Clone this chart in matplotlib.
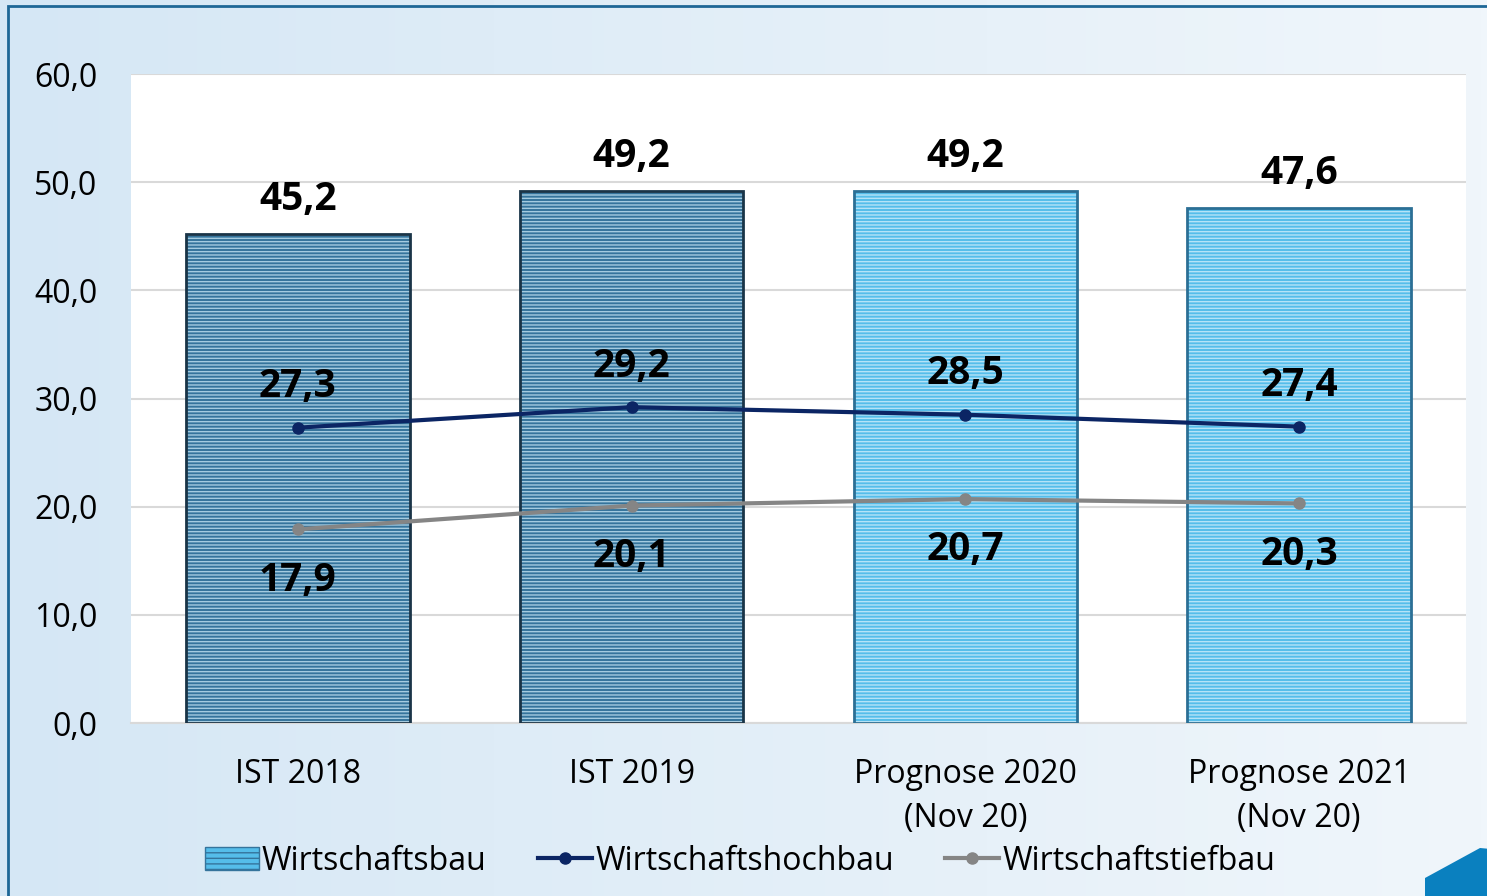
import numpy as np
import matplotlib
matplotlib.use("Agg")
import matplotlib.pyplot as plt
from matplotlib.patches import Rectangle, Polygon
from matplotlib.lines import Line2D

categories = ["IST 2018", "IST 2019", "Prognose 2020\n(Nov 20)", "Prognose 2021\n(Nov 20)"]
wirtschaftsbau = [45.2, 49.2, 49.2, 47.6]
hochbau = [27.3, 29.2, 28.5, 27.4]
tiefbau = [17.9, 20.1, 20.7, 20.3]
y_ticks = [0, 10, 20, 30, 40, 50, 60]

plt.rcParams['font.family'] = ['Open Sans', 'DejaVu Sans']

def fmt(v):
    return "{0:.1f}".format(v).replace(".", ",")

fig = plt.figure(figsize=(14.87, 8.96), dpi=100)

# background gradient
bg = fig.add_axes([0, 0, 1, 1], zorder=-10)
grad = np.linspace(0, 1, 256).reshape(1, -1)
cmap = matplotlib.colors.LinearSegmentedColormap.from_list("bg", ["#d5e7f5", "#f0f6fb"])
bg.imshow(grad, aspect="auto", cmap=cmap, extent=[0, 1, 0, 1])
bg.set_xlim(0, 1)
bg.set_ylim(0, 1)
bg.axis("off")
bg.add_patch(Rectangle((8 / 1487, -0.1), 1.2, 1.1 - 6 / 896, fill=False,
                       edgecolor="#1e6796", linewidth=2))
bg.add_patch(Polygon([(1425 / 1487, 1 - 878 / 896), (1480 / 1487, 1 - 848 / 896),
                      (1.01, 1 - 850 / 896), (1.01, -0.01), (1425 / 1487, -0.01)],
                     closed=True, facecolor="#0a80bf", edgecolor="none"))

ax = fig.add_axes([131 / 1487, 1 - 723 / 896, (1466 - 131) / 1487, (723 - 74) / 896])
ax.set_facecolor("white")
x = np.arange(len(categories))
width = 0.67

face_colors = ["#35749c", "#35749c", "#55bdea", "#55bdea"]
hatch_colors = ["#a4cbe0", "#a4cbe0", "#b5e3f7", "#b5e3f7"]
edge_colors = ["#1a3447", "#1a3447", "#2b6f95", "#2b6f95"]
for i in range(len(categories)):
    ax.bar(x[i], wirtschaftsbau[i], width, color=face_colors[i], edgecolor=hatch_colors[i],
           hatch="-----", linewidth=0, zorder=2)
    ax.bar(x[i], wirtschaftsbau[i], width, fill=False, edgecolor=edge_colors[i], linewidth=2, zorder=3)
    ax.text(x[i], wirtschaftsbau[i] + 3.2, fmt(wirtschaftsbau[i]), ha="center", va="center",
            fontsize=28, fontweight="bold", color="black", zorder=5)

ax.plot(x, hochbau, color="#0b2564", linewidth=3, marker="o", markersize=8, zorder=4)
ax.plot(x, tiefbau, color="#858585", linewidth=3, marker="o", markersize=8, zorder=4)
for i in range(len(categories)):
    ax.text(x[i], hochbau[i] + 3.8, fmt(hochbau[i]), ha="center", va="center",
            fontsize=28, fontweight="bold", color="black", zorder=5)
    ax.text(x[i], tiefbau[i] - 4.7, fmt(tiefbau[i]), ha="center", va="center",
            fontsize=28, fontweight="bold", color="black", zorder=5)

ax.set_xlim(-0.5, len(categories) - 0.5)
ax.set_ylim(0, 60)
ax.set_yticks(y_ticks)
ax.set_yticklabels([fmt(v) for v in y_ticks], fontsize=23)
ax.set_xticks(x)
ax.set_xticklabels(categories, fontsize=23, linespacing=1.45)
ax.tick_params(axis="y", length=0, pad=24)
ax.tick_params(axis="x", length=0, pad=25)
ax.yaxis.grid(True, color="#d9d9d9", linewidth=1.5, zorder=0)
ax.set_axisbelow(True)
for s in ["left", "right", "top"]:
    ax.spines[s].set_visible(False)
ax.spines["bottom"].set_color("#d9d9d9")
ax.spines["bottom"].set_linewidth(1.5)

handles = [Rectangle((0, 0), 1, 1, facecolor="#55bdea", edgecolor="#35749c", hatch="---"),
           Line2D([], [], color="#0b2564", linewidth=3, marker="o", markersize=8),
           Line2D([], [], color="#858585", linewidth=3, marker="o", markersize=8)]
fig.legend(handles, ["Wirtschaftsbau", "Wirtschaftshochbau", "Wirtschaftstiefbau"],
           loc="center", bbox_to_anchor=(740 / 1487, 1 - 861 / 896), ncol=3, frameon=False,
           fontsize=23, handlelength=1.7, handletextpad=0.1, columnspacing=1.6)

fig.savefig("out.png", dpi=100)
